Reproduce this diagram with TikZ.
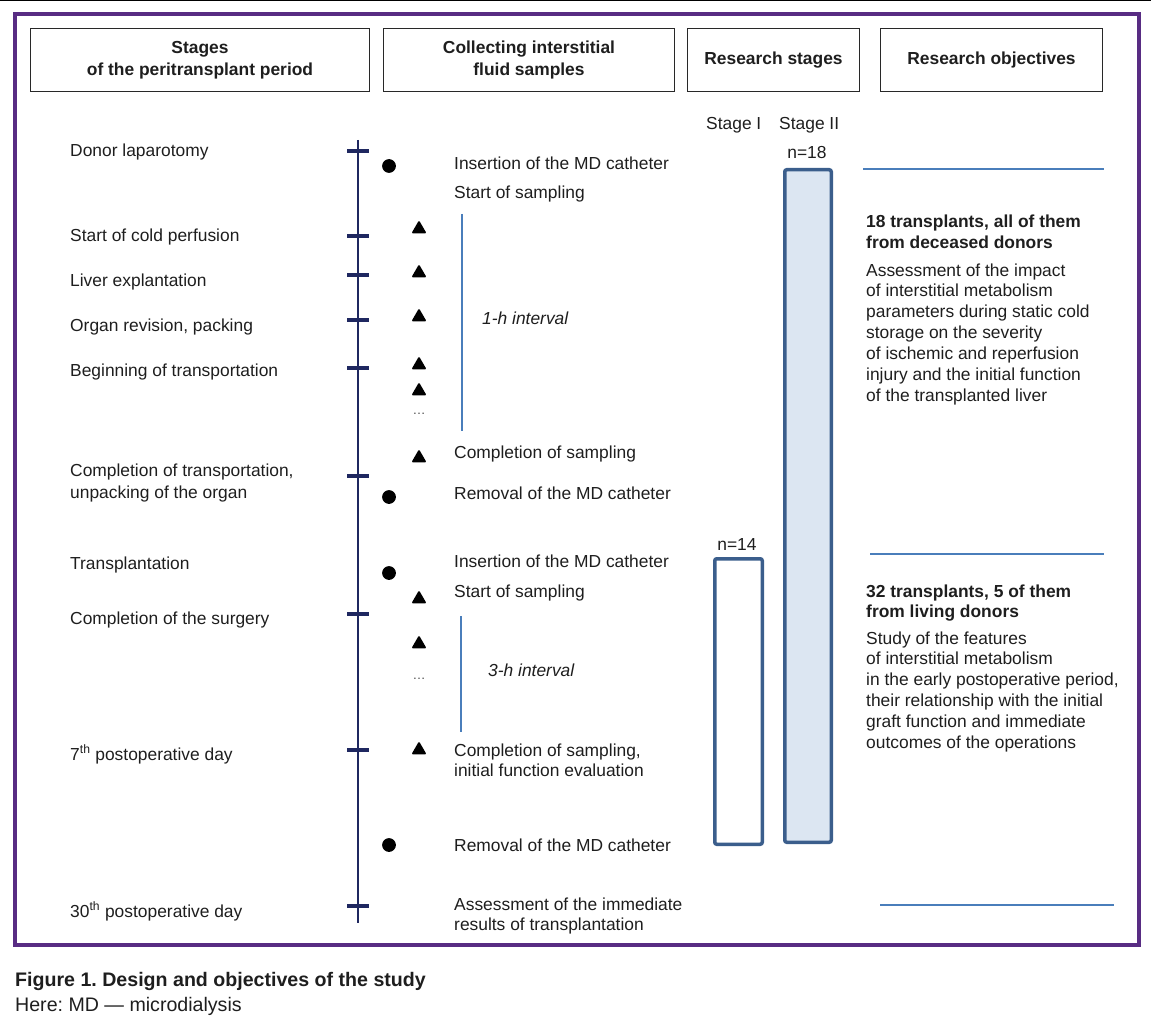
\documentclass[tikz,border=0pt]{standalone}
\usepackage{fontspec}
\setmainfont{Liberation Sans}
\usetikzlibrary{shapes.geometric}
\definecolor{framec}{RGB}{88,44,131}
\definecolor{navy}{RGB}{31,40,96}
\definecolor{sepc}{RGB}{74,126,187}
\definecolor{barc}{RGB}{59,94,140}
\definecolor{barfill}{RGB}{220,230,242}
\definecolor{boxc}{RGB}{40,40,40}
\definecolor{ink}{RGB}{30,30,30}
\frenchspacing
\begin{document}
\begin{tikzpicture}[x=1pt,y=-1pt,
  txt/.style={font=\fontsize{17.4}{21}\selectfont, inner sep=0, anchor=base west, text=ink, align=left},
  btxt/.style={txt, font=\bfseries\fontsize{17.4}{21}\selectfont},
  hbox/.style={draw=boxc, line width=1.4, font=\bfseries\fontsize{17.4}{22}\selectfont, align=center, inner sep=0, text=ink, minimum height=62.6},
  tickline/.style={draw=navy, line width=3.2},
  dotm/.style={circle, fill=black, minimum size=13.8, inner sep=0},
  trim/.style={regular polygon, regular polygon sides=3, fill=black, minimum size=17.5, inner sep=0, rounded corners=1.2},
  sepline/.style={draw=sepc, line width=2},
  ivl/.style={draw=sepc, line width=2.6},
  bar/.style={draw=barc, line width=3.5, rounded corners=2, inner sep=0},
  captxt/.style={inner sep=0, anchor=base west, text=ink, font=\bfseries\fontsize{19.6}{23}\selectfont}
]
\useasboundingbox (0,0) rectangle (1151,1024);
% top rule and frame
\draw[black, line width=1.2] (0,0.6) -- (1151,0.6);
\draw[framec, line width=4] (15,14) rectangle (1139,945);

% header boxes
\node[hbox, minimum width=338.6] (h1) at (200,60) {Stages\\of the peritransplant period};
\node[hbox, minimum width=290.6] (h2) at (529,60) {Collecting interstitial\\fluid samples};
\node[hbox, minimum width=171.6] (h3) at (773.5,60) {Research stages};
\node[hbox, minimum width=221.6] (h4) at (991.5,60) {Research objectives};

% timeline
\coordinate (tl0) at (358,140);
\coordinate (tl1) at (358,923);
\draw[navy, line width=2.6] (tl0) -- (tl1);
\foreach \y in {151,236,275,320,368,476,614,750,906}
  \draw[tickline] (347,\y) -- (369,\y);

% left labels
\node[txt] (l1) at (70,157) {Donor laparotomy};
\node[txt] (l2) at (70,242) {Start of cold perfusion};
\node[txt] (l3) at (70,287) {Liver explantation};
\node[txt] (l4) at (70,331) {Organ revision, packing};
\node[txt] (l5) at (70,376) {Beginning of transportation};
\node[txt, font=\fontsize{17.4}{22}\selectfont] (l6) at (70,498) {Completion of transportation,\\unpacking of the organ};
\node[txt] (l7) at (70,569) {Transplantation};
\node[txt] (l8) at (70,624) {Completion of the surgery};
\node[txt] (l9) at (70,760) {7\textsuperscript{th} postoperative day};
\node[txt] (l10) at (70,917) {30\textsuperscript{th} postoperative day};

% markers
\node[dotm] (c1) at (389,166) {};
\node[dotm] (c2) at (389,497) {};
\node[dotm] (c3) at (389,573) {};
\node[dotm] (c4) at (389,845) {};
\foreach \y [count=\i] in {227,271,315,363,389,456,597,642,748}
  \node[trim] (t\i) at (419,\y+2) {};
\node[inner sep=0, text=ink!80, font=\fontsize{13}{13}\selectfont] (e1) at (419,414) {…};
\node[inner sep=0, text=ink!80, font=\fontsize{13}{13}\selectfont] (e2) at (419,679) {…};

% interval lines
\draw[ivl] (462,214) -- (462,431);
\draw[ivl] (461,616) -- (461,732);
\node[txt, font=\itshape\fontsize{17.4}{21}\selectfont] (i1) at (482,324) {1-h interval};
\node[txt, font=\itshape\fontsize{17.4}{21}\selectfont] (i2) at (488,676) {3-h interval};

% center texts
\node[txt] (m1) at (454,170) {Insertion of the MD catheter};
\node[txt] (m2) at (454,199) {Start of sampling};
\node[txt] (m3) at (454,458) {Completion of sampling};
\node[txt] (m4) at (454,499) {Removal of the MD catheter};
\node[txt] (m5) at (454,567) {Insertion of the MD catheter};
\node[txt] (m6) at (454,597) {Start of sampling};
\node[txt, font=\fontsize{17.4}{20}\selectfont] (m7) at (454,776) {Completion of sampling,\\initial function evaluation};
\node[txt] (m8) at (454,851) {Removal of the MD catheter};
\node[txt, font=\fontsize{17.4}{20}\selectfont] (m9) at (454,930) {Assessment of the immediate\\results of transplantation};

% research stages
\node[txt] (sI) at (706,130) {Stage I};
\node[txt] (sII) at (779,130) {Stage II};
\node[bar, fill=barfill, minimum width=46.5, minimum height=672.5] (b2) at (808,506) {};
\node[bar, fill=white, minimum width=47.5, minimum height=285.5] (b1) at (738.5,701.5) {};
\node[txt, anchor=base] (n18) at (807,159) {n=18};
\node[txt, anchor=base] (n14) at (737,550) {n=14};

% objectives
\draw[sepline] (863,169) -- (1104,169);
\draw[sepline] (870,554) -- (1104,554);
\draw[sepline] (880,905) -- (1114,905);
\node[btxt] (o1) at (866,249) {18 transplants, all of them\\from deceased donors};
\node[txt, font=\fontsize{17.4}{20.83}\selectfont] (o2) at (866,401) {Assessment of the impact\\of interstitial metabolism\\parameters during static cold\\storage on the severity\\of ischemic and reperfusion\\injury and the initial function\\of the transplanted liver};
\node[btxt, font=\bfseries\fontsize{17.4}{20}\selectfont] (o3) at (866,617) {32 transplants, 5 of them\\from living donors};
\node[txt, font=\fontsize{17.4}{20.8}\selectfont] (o4) at (866,748) {Study of the features\\of interstitial metabolism\\in the early postoperative period,\\their relationship with the initial\\graft function and immediate\\outcomes of the operations};

% caption
\node[captxt] (cp1) at (15,986) {Figure 1. Design and objectives of the study};
\node[captxt, font=\fontsize{19.6}{23}\selectfont] (cp2) at (15,1011) {Here: MD — microdialysis};
\end{tikzpicture}
\end{document}
